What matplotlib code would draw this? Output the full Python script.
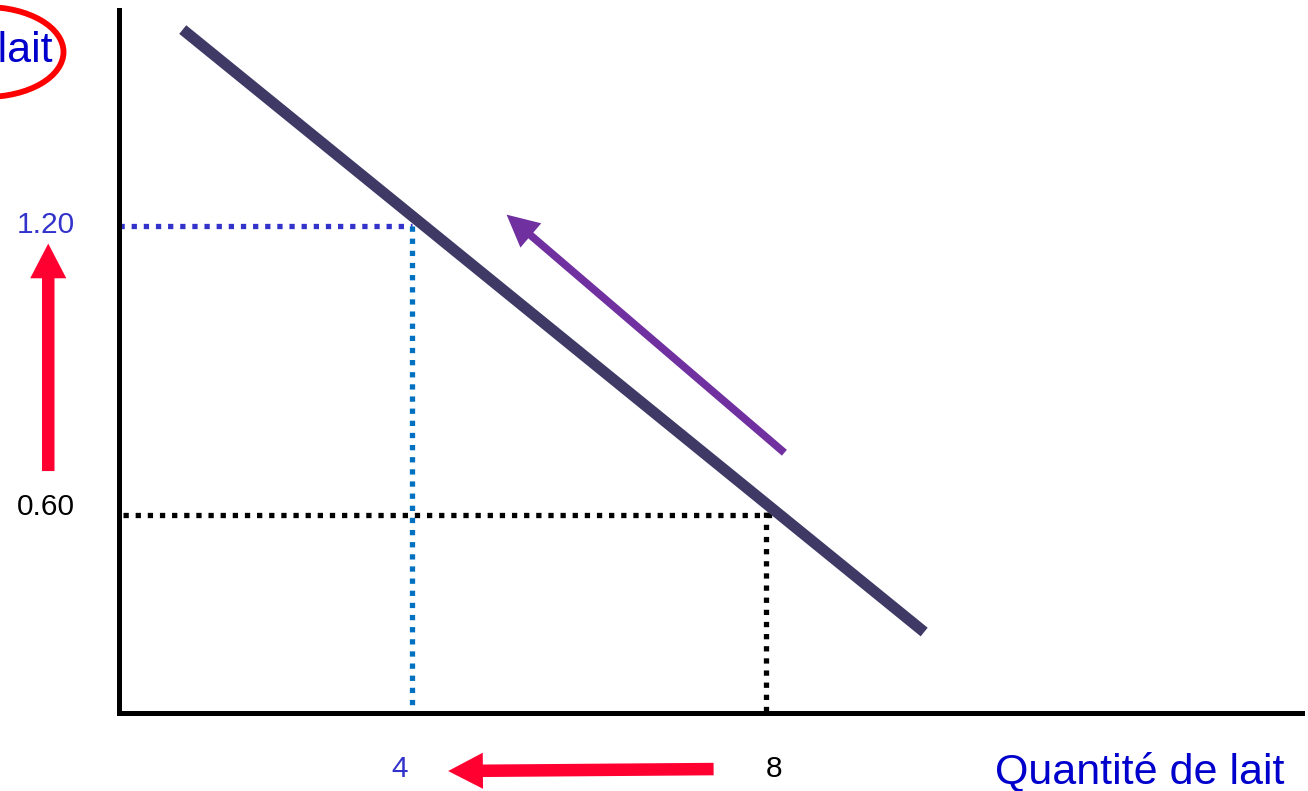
import matplotlib
matplotlib.use("Agg")
import matplotlib.pyplot as plt
from matplotlib.patches import Ellipse

plt.rcParams["font.family"] = ["Liberation Sans", "DejaVu Sans"]

# demand curve (quantity, price)
demand_q = [1.41, 9.79]
demand_p = [1.607, 0.357]

# the two price / quantity pairs that are marked
high_price, high_qty = 1.20, 4
low_price, low_qty = 0.60, 8

price_labels = ["1.20", "0.60"]
qty_labels = ["4", "8"]

x_label = "Quantité de lait"
y_label = "Prix du lait"

# movement along the curve (from low price point up to high price point)
move_from = (8.21, 0.729)
move_to = (5.07, 1.223)

RED = "#ff0030"
BLUE_TXT = "#3333cc"

fig = plt.figure(figsize=(13.08, 7.91), dpi=100)
ax = fig.add_axes([0.091, 0.0986, 0.9044, 0.889])
ax.set_xlim(0.69, 14.06)
ax.set_ylim(0.189, 1.648)
for s in ["top", "right"]:
    ax.spines[s].set_visible(False)
for s in ["left", "bottom"]:
    ax.spines[s].set_linewidth(3.6)
    ax.spines[s].set_color("black")
ax.set_xticks([])
ax.set_yticks([])

dots = (0, (1, 1.3))
x0 = ax.get_xlim()[0]
y0 = ax.get_ylim()[0]

# guide lines for the high price
ax.plot([x0, high_qty], [high_price, high_price], color="#3333cc", lw=3.8,
        linestyle=dots, dash_capstyle="butt", zorder=2)
ax.plot([high_qty, high_qty], [high_price, y0], color="#0070c0", lw=3.8,
        linestyle=dots, dash_capstyle="butt", zorder=2)
# guide lines for the low price
ax.plot([x0 + 0.05, low_qty + 0.12], [low_price, low_price], color="black", lw=3.8,
        linestyle=dots, dash_capstyle="butt", zorder=2)
ax.plot([low_qty, low_qty], [low_price + 0.031, y0], color="black", lw=3.8,
        linestyle=dots, dash_capstyle="butt", zorder=2)

# demand line
ax.plot(demand_q, demand_p, color="#3f3966", lw=8, solid_capstyle="butt", zorder=3)

# purple arrow along the curve
ax.annotate("", xy=move_to, xytext=move_from,
            arrowprops=dict(arrowstyle="simple,head_width=23,head_length=23,tail_width=5.5",
                            mutation_scale=1, color="#7030a0", lw=0,
                            shrinkA=0, shrinkB=0))

# red arrows: price goes up, quantity goes down
ax.annotate("", xy=(-0.11, 1.163), xytext=(-0.11, 0.691), annotation_clip=False,
            arrowprops=dict(arrowstyle="simple,head_width=26,head_length=25,tail_width=9",
                            mutation_scale=1, color=RED, lw=0, shrinkA=0, shrinkB=0))
ax.annotate("", xy=(4.41, 0.0686), xytext=(7.41, 0.0727), annotation_clip=False,
            arrowprops=dict(arrowstyle="simple,head_width=26,head_length=25,tail_width=9",
                            mutation_scale=1, color=RED, lw=0, shrinkA=0, shrinkB=0))

# value labels
ax.text(-0.135, 1.185, price_labels[0], color=BLUE_TXT, fontsize=21.5,
        ha="center", va="baseline")
ax.text(-0.135, 0.60, price_labels[1], color="black", fontsize=21.5,
        ha="center", va="baseline")
ax.text(3.86, 0.056, qty_labels[0], color=BLUE_TXT, fontsize=21.5,
        ha="center", va="baseline")
ax.text(8.09, 0.056, qty_labels[1], color="black", fontsize=21.5,
        ha="center", va="baseline")

# axis titles
ax.text(12.23, 0.0436, x_label, color="#0000cc", fontsize=31,
        ha="center", va="baseline")
fig.text(53 / 1308, 1 - 62 / 791, y_label, color="#0000cc", fontsize=31,
         ha="right", va="baseline")
fig.add_artist(Ellipse((-14 / 1308, 1 - 52 / 791), 155 / 1308, 90 / 791,
                       transform=fig.transFigure, fill=False,
                       edgecolor="#ff0000", lw=4.2))

fig.savefig("out.png", dpi=100)
